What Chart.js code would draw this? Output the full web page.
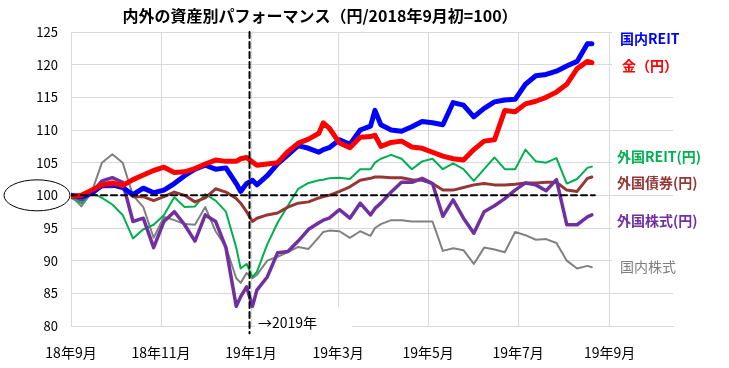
<!DOCTYPE html>
<html lang="ja">
<head>
<meta charset="utf-8">
<script src="https://cdn.jsdelivr.net/npm/chart.js@4.4.1/dist/chart.umd.min.js"></script>
<style>
  html, body { margin: 0; padding: 0; background: #fff; }
</style>
</head>
<body>
<canvas id="myChart" width="729" height="368"></canvas>
<script>
// Days since 2018/9/1
const days = [0, 7, 14, 21, 28, 35, 42, 49, 56, 63, 70, 77, 84, 91, 98, 105,
  112, 115, 119, 123, 126,
  133, 140, 147, 154, 161, 168, 171,
  175, 182, 189, 196, 203, 206,
  210, 217, 224, 231, 238, 245, 252, 259, 266, 273, 280, 287, 294, 301, 308, 315, 322, 329, 336, 343, 350,
  353];

// Series (2018/9初 = 100)
const jReit = [100, 99.8, 100.3, 101.5, 101.6, 101.2, 100.1, 101.1, 100.4, 100.8, 101.8, 103, 104, 104.6, 104, 104.2,
  101.8, 100.6, 101.8, 102.3, 101.6,
  103, 104.8, 106.2, 107.6, 107.2, 106.6, 107,
  107.3, 108.5, 107.8, 110, 110.6, 113,
  110.8, 110, 109.8, 110.5, 111.3, 111.1, 110.8, 114.2, 113.8, 112, 113.3, 114.3, 114.6, 114.7, 117, 118.3, 118.5, 119, 119.8, 120.5, 123.2,
  123.2];
const gold = [99.8, 100, 100.8, 101.6, 101.9, 101.5, 102.4, 103.1, 103.8, 104.3, 103.5, 103.6, 104.1, 104.8, 105.4, 105.2,
  105.2, 105.6, 105.8, 105.1, 104.6,
  104.8, 105, 106.7, 108, 108.6, 109.5, 111.1,
  110.3, 108, 107.3, 108.9, 109, 109.2,
  107.5, 108.1, 108.3, 107.4, 107.2, 106.6, 106, 105.6, 105.4, 107, 108.3, 108.5, 113, 112.8, 114, 114.4, 115, 115.8, 117, 119.4, 120.5,
  120.3];
const fReit = [99.6, 98.8, 100.4, 99.6, 98.6, 97, 93.4, 94.8, 95.5, 97, 99.7, 98.2, 98.3, 100.2, 99.2, 97.5,
  92, 88.8, 89.5, 87.5, 88.3,
  92.5, 95.8, 98.4, 101, 101.9, 102.3, 102.4,
  102.6, 102.7, 102.5, 104, 104, 105,
  105.6, 106.2, 105.6, 104, 105.2, 105.6, 104, 104.9, 104, 102.2, 104, 105.8, 104, 104, 107, 105.2, 105, 105.7, 101.8, 102.5, 104.2,
  104.4];
const fBond = [100, 99.8, 100.5, 101.3, 101.3, 101.5, 99.8, 99.8, 99.2, 99.8, 100.5, 100, 99, 99.6, 101, 100.5,
  99.5, 98.8, 97.5, 96, 96.5,
  97, 97.3, 98.2, 98.8, 99, 99.6, 99.8,
  100, 100.6, 101.3, 102.3, 102.6, 102.8,
  102.8, 102.7, 102.7, 102.4, 102.3, 101.8, 100.8, 100.8, 101.2, 101.6, 101.8, 101.6, 101.6, 101.7, 101.9, 101.9, 102, 102, 100.8, 100.6, 102.6,
  102.8];
const fStock = [100, 99.3, 100.4, 102.2, 102.7, 102, 96, 96.5, 92, 96, 97.5, 95.5, 93, 97, 96, 92,
  83, 84.5, 86, 83, 85.5,
  87.5, 91.2, 91.4, 93, 94.8, 95.8, 96.2,
  96.5, 97.8, 96.5, 98.8, 97, 98,
  98.8, 100.5, 102, 102, 102.6, 101.8, 96.8, 99.3, 96.5, 94.2, 97.5, 98.4, 99.5, 100.8, 101.9, 101.6, 100.7, 102.4, 95.5, 95.5, 96.7,
  97];
const jStock = [100, 98.3, 100.5, 105, 106.3, 105, 100, 98.2, 93.5, 96.7, 96.2, 95.6, 95.5, 98.2, 94.5, 92.1,
  87.3, 86.6, 88.1, 87.3, 87.8,
  90, 90.6, 91.3, 92.1, 91.8, 93.6, 94.4,
  94.6, 94.5, 93.5, 94.5, 93.8, 95,
  95.6, 96.2, 96.2, 96, 96, 96, 91.5, 91.9, 91.6, 89.5, 92, 91.7, 91.3, 94.4, 93.9, 93.2, 93.3, 92.7, 90, 88.8, 89.2,
  89];

// X axis ticks (every 2 months)
const tickDays = [0, 61, 122, 181, 242, 303, 365];
const tickLabels = ['18年9月', '18年11月', '19年1月', '19年3月', '19年5月', '19年7月', '19年9月'];
const markerDay = 121; // start of 2019
const lastDay = 355;

const FONT = '"Noto Sans CJK JP", "Noto Sans", sans-serif';

function toPoints(vals) {
  return vals.map((v, i) => ({ x: days[i], y: v }));
}

// Title, side labels and notes
const decorations = {
  id: 'decorations',
  afterDraw(chart) {
    const ctx = chart.ctx;
    ctx.save();

    // Title
    ctx.fillStyle = '#000';
    ctx.font = 'bold 16px ' + FONT;
    ctx.textAlign = 'center';
    ctx.textBaseline = 'middle';
    ctx.fillText('内外の資産別パフォーマンス（円/2018年9月初=100）', 320, 16);

    // Series labels on the right
    const labels = [
      { text: '国内REIT', color: '#0000FF', y: 39, x: 620, bold: true },
      { text: '金（円）', color: '#FF0000', y: 66, x: 622, bold: true },
      { text: '外国REIT(円)', color: '#00B050', y: 157, x: 617, bold: true },
      { text: '外国債券(円)', color: '#953735', y: 183, x: 617, bold: true },
      { text: '外国株式(円)', color: '#7030A0', y: 221, x: 617, bold: true },
      { text: '国内株式', color: '#7F7F7F', y: 267, x: 620, bold: false }
    ];
    ctx.textAlign = 'left';
    labels.forEach(l => {
      ctx.fillStyle = '#fff';
      ctx.fillRect(612, l.y - 11, 117, 22);
      ctx.fillStyle = l.color;
      ctx.font = (l.bold ? 'bold ' : '') + '14px ' + FONT;
      ctx.fillText(l.text, l.x, l.y);
    });

    // →2019年 note
    ctx.fillStyle = '#fff';
    ctx.fillRect(255, 307, 97, 29);
    ctx.fillStyle = '#000';
    ctx.font = '14px ' + FONT;
    ctx.fillText('→2019年', 258, 323);

    // Ellipse around 100
    const y100 = chart.scales.y.getPixelForValue(100);
    ctx.strokeStyle = '#000';
    ctx.lineWidth = 1;
    ctx.beginPath();
    ctx.ellipse(37, y100, 33, 15.5, 0, 0, Math.PI * 2);
    ctx.stroke();

    ctx.restore();
  }
};

const ctx = document.getElementById('myChart').getContext('2d');
new Chart(ctx, {
  type: 'line',
  data: {
    datasets: [
      // Dashed guides
      {
        data: [{ x: markerDay, y: 125 }, { x: markerDay, y: 78.9 }],
        borderColor: '#000', borderWidth: 2, borderDash: [6, 4], clip: false
      },
      {
        data: [{ x: 0, y: 100 }, { x: lastDay, y: 100 }],
        borderColor: '#000', borderWidth: 2, borderDash: [6, 4]
      },
      { label: '金（円）', data: toPoints(gold), borderColor: '#FF0000', borderWidth: 5 },
      { label: '国内REIT', data: toPoints(jReit), borderColor: '#0000FF', borderWidth: 5 },
      { label: '外国株式(円)', data: toPoints(fStock), borderColor: '#7030A0', borderWidth: 3.5 },
      { label: '外国債券(円)', data: toPoints(fBond), borderColor: '#953735', borderWidth: 3 },
      { label: '外国REIT(円)', data: toPoints(fReit), borderColor: '#00B050', borderWidth: 2 },
      { label: '国内株式', data: toPoints(jStock), borderColor: '#808080', borderWidth: 2 }
    ]
  },
  options: {
    responsive: false,
    animation: false,
    devicePixelRatio: 1,
    layout: { padding: { left: 0, right: 56, top: 32, bottom: 0 } },
    elements: {
      point: { radius: 0 },
      line: { tension: 0, fill: false, borderJoinStyle: 'round', borderCapStyle: 'round' }
    },
    plugins: {
      legend: { display: false },
      tooltip: { enabled: false }
    },
    scales: {
      x: {
        type: 'linear',
        min: 0,
        max: 408,
        afterBuildTicks: scale => { scale.ticks = tickDays.map(v => ({ value: v })); },
        afterFit: scale => { scale.height = 42; },
        grid: { color: '#D9D9D9', drawTicks: false },
        border: { color: '#D9D9D9' },
        ticks: {
          padding: 18,
          color: '#000',
          font: { family: FONT, size: 14 },
          maxRotation: 0,
          autoSkip: false,
          callback: v => tickLabels[tickDays.indexOf(v)]
        }
      },
      y: {
        min: 80,
        max: 125,
        afterFit: scale => { scale.width = 71; },
        grid: { color: '#D9D9D9', drawTicks: false },
        border: { color: '#D9D9D9' },
        ticks: {
          stepSize: 5,
          padding: 13,
          color: '#000',
          font: { family: FONT, size: 13 }
        }
      }
    }
  },
  plugins: [decorations]
});
</script>
</body>
</html>
